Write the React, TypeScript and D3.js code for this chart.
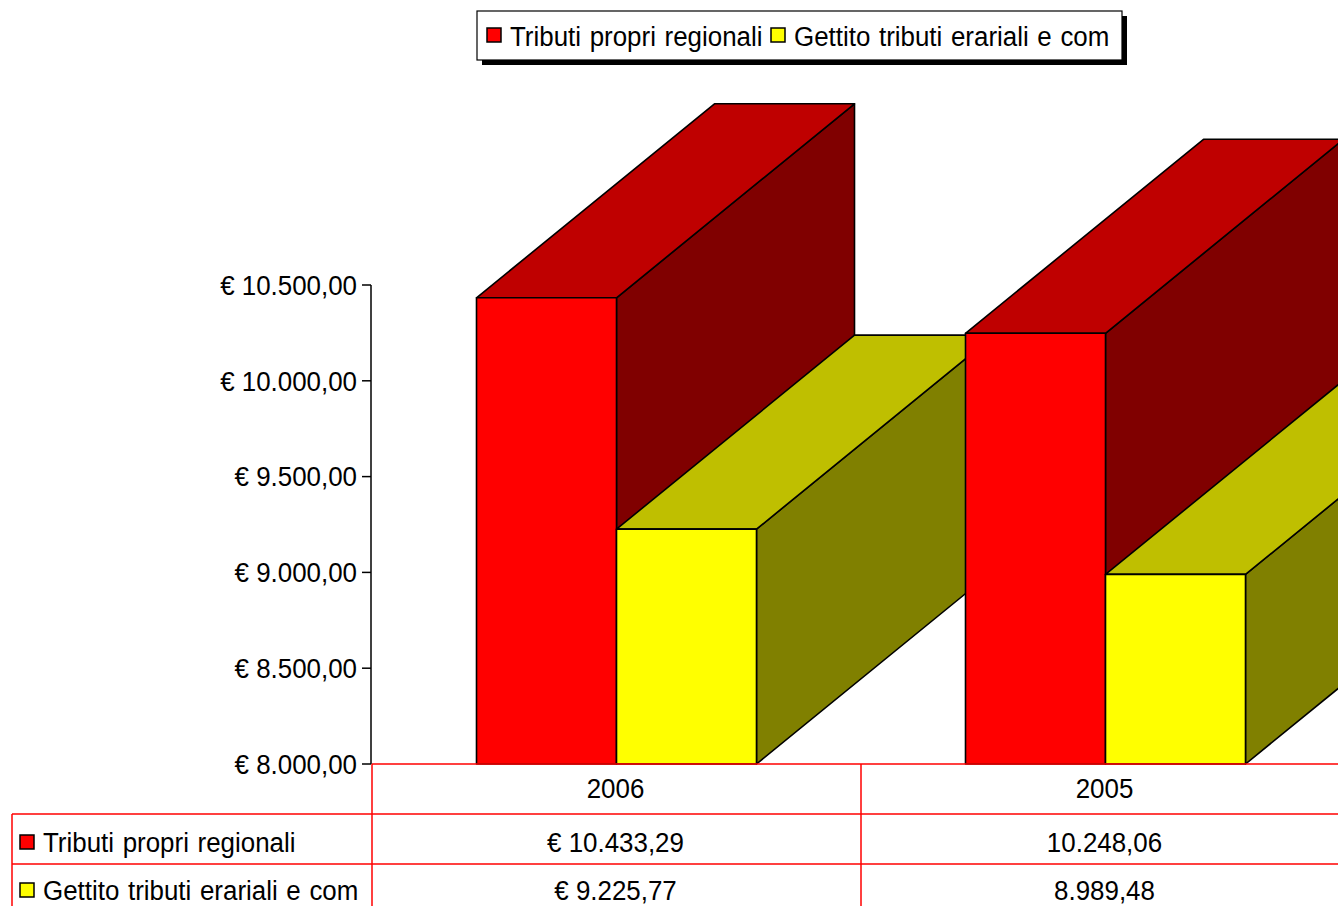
import React from "react";
import * as d3 from "d3";

const categories = ["2006", "2005"];
const seriesNames = ["Tributi propri regionali", "Gettito tributi erariali e com"];
const tributiValues = [10433.29, 10248.06];
const gettitoValues = [9225.77, 8989.48];
const tributiLabels = ["€ 10.433,29", "10.248,06"];
const gettitoLabels = ["€ 9.225,77", "8.989,48"];
const yTicks = [8000, 8500, 9000, 9500, 10000, 10500];
const yTickLabels = ["€ 8.000,00", "€ 8.500,00", "€ 9.000,00", "€ 9.500,00", "€ 10.000,00", "€ 10.500,00"];

const frontColors = ["#FF0000", "#FFFF00"];
const topColors = ["#BF0000", "#BFBF00"];
const sideColors = ["#800000", "#808000"];

const W = 1338;
const H = 906;
const FONT = "'Liberation Sans', Arial, sans-serif";
const FS = 27;
const SX = 0.96;

function T(props: { x: number; y: number; anchor?: "start" | "middle" | "end"; ws?: number; children: React.ReactNode }) {
  return (
    <g transform={`translate(${props.x},${props.y}) scale(${SX},1)`}>
      <text x={0} y={0} dy="0.36em" textAnchor={props.anchor || "start"} fontSize={FS} fill="#000" wordSpacing={props.ws || 0}>
        {props.children}
      </text>
    </g>
  );
}

export default function App() {
  const y = d3.scaleLinear().domain([8000, 10500]).range([764, 285]);
  const x = d3.scaleBand<string>().domain(categories).range([372, 1350]).paddingInner(0).paddingOuter(0);
  const barW = 140;
  const sx = d3.scaleBand<number>().domain([0, 1]).range([0, barW * 2]);
  const depthX = 238;
  const depthY = -194;
  const series = [tributiValues, gettitoValues];
  const labels = [tributiLabels, gettitoLabels];
  const base = y(8000);

  const bars: React.ReactElement[] = [];
  categories.forEach((c, ci) => {
    const bx0 = (x(c) as number) + (x.bandwidth() - barW * 2) / 2;
    series.forEach((vals, si) => {
      const x0 = bx0 + (sx(si) as number);
      const x1 = x0 + barW;
      const yt = y(vals[ci]);
      const pts = (arr: number[][]) => arr.map((p) => p.join(",")).join(" ");
      bars.push(
        <g key={`${ci}-${si}`} stroke="#000" strokeWidth={1.6} strokeLinejoin="round">
          <polygon fill={sideColors[si]} points={pts([[x1, yt], [x1 + depthX, yt + depthY], [x1 + depthX, base + depthY], [x1, base]])} />
          <polygon fill={topColors[si]} points={pts([[x0, yt], [x0 + depthX, yt + depthY], [x1 + depthX, yt + depthY], [x1, yt]])} />
          <rect x={x0} y={yt} width={barW} height={base - yt} fill={frontColors[si]} />
        </g>
      );
    });
  });

  const rowTop = [764, 814, 864, 914];

  return (
    <svg width={W} height={H} style={{ position: "absolute", left: 0, top: 0, background: "#fff" }} fontFamily={FONT}>
      <rect x={0} y={0} width={W} height={H} fill="#fff" />
      {/* legend */}
      <rect x={482} y={16} width={645} height={49} fill="#000" />
      <rect x={477} y={11} width={645} height={49} fill="#fff" stroke="#000" strokeWidth={1.2} />
      {seriesNames.map((n, i) => {
        const lx = i === 0 ? 487 : 771;
        return (
          <g key={n}>
            <rect x={lx} y={28} width={14} height={14} fill={frontColors[i]} stroke="#000" strokeWidth={1.5} />
            <T x={lx + 23} y={36} ws={1.5}>{n}</T>
          </g>
        );
      })}
      {/* bars */}
      {bars}
      {/* y axis */}
      <line x1={371} x2={371} y1={y(10500)} y2={base} stroke="#000" strokeWidth={1.5} />
      {yTicks.map((t, i) => (
        <g key={t}>
          <line x1={362} x2={371} y1={y(t)} y2={y(t)} stroke="#000" strokeWidth={1.5} />
          <T x={357} y={y(t)} anchor="end">{yTickLabels[i]}</T>
        </g>
      ))}
      {/* table */}
      <g stroke="#FF0000" strokeWidth={1.5}>
        <line x1={372} x2={W} y1={rowTop[0]} y2={rowTop[0]} />
        <line x1={12} x2={W} y1={rowTop[1]} y2={rowTop[1]} />
        <line x1={12} x2={W} y1={rowTop[2]} y2={rowTop[2]} />
        <line x1={12} x2={12} y1={rowTop[1]} y2={H} />
        {categories.map((c) => (
          <line key={c} x1={x(c) as number} x2={x(c) as number} y1={rowTop[0]} y2={H} />
        ))}
      </g>
      {categories.map((c) => (
        <T key={c} x={(x(c) as number) + x.bandwidth() / 2 - 1} y={(rowTop[0] + rowTop[1]) / 2 - 1} anchor="middle">{c}</T>
      ))}
      {seriesNames.map((n, si) => {
        const cy = si === 0 ? 842 : 890;
        return (
          <g key={n}>
            <rect x={20} y={cy - 7} width={14} height={14} fill={frontColors[si]} stroke="#000" strokeWidth={1.5} />
            <T x={43} y={cy} ws={1.5}>{n}</T>
            {categories.map((c, ci) => (
              <T key={c} x={(x(c) as number) + x.bandwidth() / 2 - 1} y={cy} anchor="middle">{labels[si][ci]}</T>
            ))}
          </g>
        );
      })}
    </svg>
  );
}
